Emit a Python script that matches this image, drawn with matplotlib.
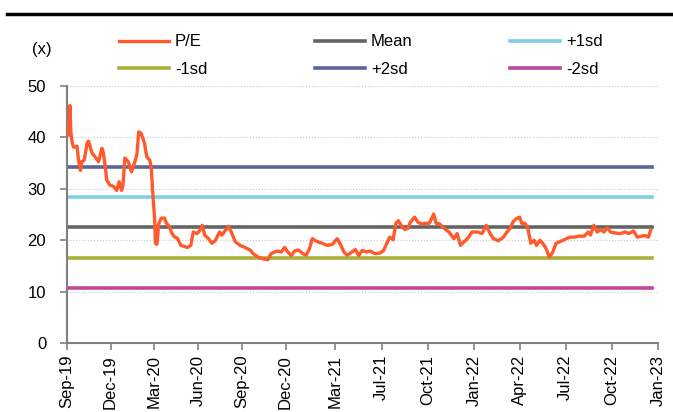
import pandas as pd
import matplotlib.pyplot as plt
from matplotlib.lines import Line2D

plt.rcParams['font.family'] = ['Liberation Sans', 'DejaVu Sans']

start_date = '2019-09-01'
# trading days since start_date
pe_days = [3, 6, 8, 11, 14, 21, 24, 28, 31, 36, 42, 45, 52, 59, 66, 73, 76, 80, 83, 90,
           97, 104, 109, 114, 117, 121, 128, 135, 142, 146, 150, 155, 162, 167, 173, 176,
           179, 183, 185, 188, 192, 197, 204, 208, 214, 219, 224, 231, 238, 245, 252, 259,
           264, 272, 277, 283, 288, 296, 303, 310, 319, 324, 331, 338, 345, 352, 362, 372,
           383, 389, 400, 410, 420, 427, 434, 441, 448, 455, 462, 469, 476, 484, 493, 500,
           507, 513, 524, 534, 544, 555, 565, 572, 579, 586, 596, 603, 610, 617, 627, 634,
           644, 655, 662, 668, 675, 682, 688, 693, 699, 706, 713, 718, 727, 734, 741, 747,
           758, 767, 772, 779, 789, 799, 809, 816, 823, 834, 840, 847, 858, 868, 877, 885,
           892, 902, 913, 920, 927, 933, 940, 947, 951, 958, 964, 970, 977, 982, 989, 995,
           1002, 1009, 1016, 1023, 1030, 1040, 1051, 1061, 1071, 1082, 1090, 1095, 1102,
           1109, 1116, 1123, 1130, 1137, 1147, 1157, 1168, 1175, 1185, 1193, 1202, 1209,
           1216, 1221]
pe_values = [40.5, 46.2, 41.0, 38.9, 38.1, 38.3, 35.6, 33.6, 35.3, 35.6, 38.9, 39.3, 37.0,
             36.2, 35.3, 37.9, 37.0, 34.3, 31.7, 30.7, 30.5, 29.7, 31.4, 29.7, 30.7, 36.0,
             35.3, 33.3, 35.3, 36.6, 41.1, 40.8, 38.9, 36.2, 35.6, 34.4, 29.7, 24.5, 19.4,
             19.2, 23.3, 24.3, 24.3, 23.3, 22.7, 21.4, 20.7, 20.4, 19.0, 18.8, 18.6, 19.0,
             21.6, 21.3, 21.8, 22.9, 21.0, 20.3, 19.4, 19.9, 21.6, 21.0, 21.9, 22.7, 21.3,
             19.7, 19.0, 18.6, 18.1, 17.4, 16.7, 16.4, 16.2, 17.4, 17.7, 17.9, 17.7, 18.6,
             17.7, 17.0, 17.9, 18.1, 17.4, 17.1, 18.3, 20.3, 19.7, 19.4, 19.0, 19.2, 20.3,
             19.2, 17.7, 17.1, 17.7, 18.2, 17.0, 18.0, 17.7, 17.9, 17.4, 17.5, 18.0, 19.2,
             20.6, 20.1, 23.3, 23.8, 22.9, 22.1, 22.3, 23.5, 24.5, 23.5, 23.2, 23.3, 23.3,
             25.1, 23.3, 23.2, 22.3, 21.6, 20.3, 21.3, 19.0, 20.0, 20.6, 21.6, 21.6, 21.3,
             22.9, 21.3, 20.3, 19.9, 20.6, 21.6, 22.3, 23.6, 24.2, 24.5, 23.3, 23.3, 22.3,
             19.4, 20.0, 19.0, 20.0, 19.4, 18.4, 16.7, 17.7, 19.4, 19.7, 20.1, 20.6, 20.6,
             20.8, 20.8, 21.6, 21.0, 22.9, 21.6, 22.1, 21.6, 22.4, 21.6, 21.4, 21.3, 21.6,
             21.3, 21.8, 20.6, 20.8, 20.9, 20.6, 22.0]

band_labels = ['Mean', '+1sd', '-1sd', '+2sd', '-2sd']
band_values = [22.5, 28.4, 16.6, 34.2, 10.7]
band_colors = ['#646464', '#7fd0e6', '#a9b03c', '#5c6598', '#c2479b']

tick_labels = ['Sep-19', 'Dec-19', 'Mar-20', 'Jun-20', 'Sep-20', 'Dec-20', 'Mar-21',
               'Jul-21', 'Oct-21', 'Jan-22', 'Apr-22', 'Jul-22', 'Oct-22', 'Jan-23']
tick_dates = ['2019-09-01', '2019-12-01', '2020-03-01', '2020-06-01', '2020-09-01',
              '2020-12-01', '2021-03-15', '2021-06-20', '2021-09-25', '2021-12-30',
              '2022-04-05', '2022-07-10', '2022-10-15', '2023-01-19']

dates = pd.Timestamp(start_date) + pd.to_timedelta(pe_days, unit='D')
x0, x1 = pd.Timestamp(start_date), dates[-1] + pd.Timedelta(days=2)

fig = plt.figure(figsize=(6.73, 4.12), dpi=100)
ax = fig.add_axes([0.0996, 0.1675, 0.878, 0.6235])

ax.plot(dates, pe_values, color='#ff5a2b', lw=2.4, label='P/E', zorder=3)
for lab, val, col in zip(band_labels, band_values, band_colors):
    ax.plot([x0, x1], [val, val], color=col, lw=2.6, label=lab, zorder=2)

ax.set_xlim(x0, x1)
ax.set_ylim(0, 50)
ax.set_yticks(range(0, 51, 10))
ax.set_xticks(pd.to_datetime(tick_dates))
ax.set_xticklabels(tick_labels, rotation=90)
ax.tick_params(labelsize=12, color='#808080', length=5, width=1.2)
ax.tick_params(axis='y', pad=10)
ax.grid(axis='y', linestyle=':', color='#c8c8c8', lw=0.8)
for s in ['top', 'right']:
    ax.spines[s].set_visible(False)
for s in ['left', 'bottom']:
    ax.spines[s].set_color('#808080')
    ax.spines[s].set_linewidth(1.5)

fig.text(0.062, 0.88, '(x)', fontsize=12, ha='center', va='center')

# legend: three columns, two rows, placed one column at a time
h, l = ax.get_legend_handles_labels()
columns = [[0, 3], [1, 4], [2, 5]]
col_x = [0.177, 0.468, 0.758]
for idx, cx in zip(columns, col_x):
    leg = fig.legend([h[i] for i in idx], [l[i] for i in idx],
                     loc='center left', bbox_to_anchor=(cx, 0.865), frameon=False,
                     fontsize=12, handlelength=3.0, handletextpad=0.35,
                     labelspacing=0.75, borderpad=0, borderaxespad=0)

fig.add_artist(Line2D([0.01, 1.0], [0.965, 0.965], color='black', lw=2.5))

fig.savefig('out.png', dpi=100)
